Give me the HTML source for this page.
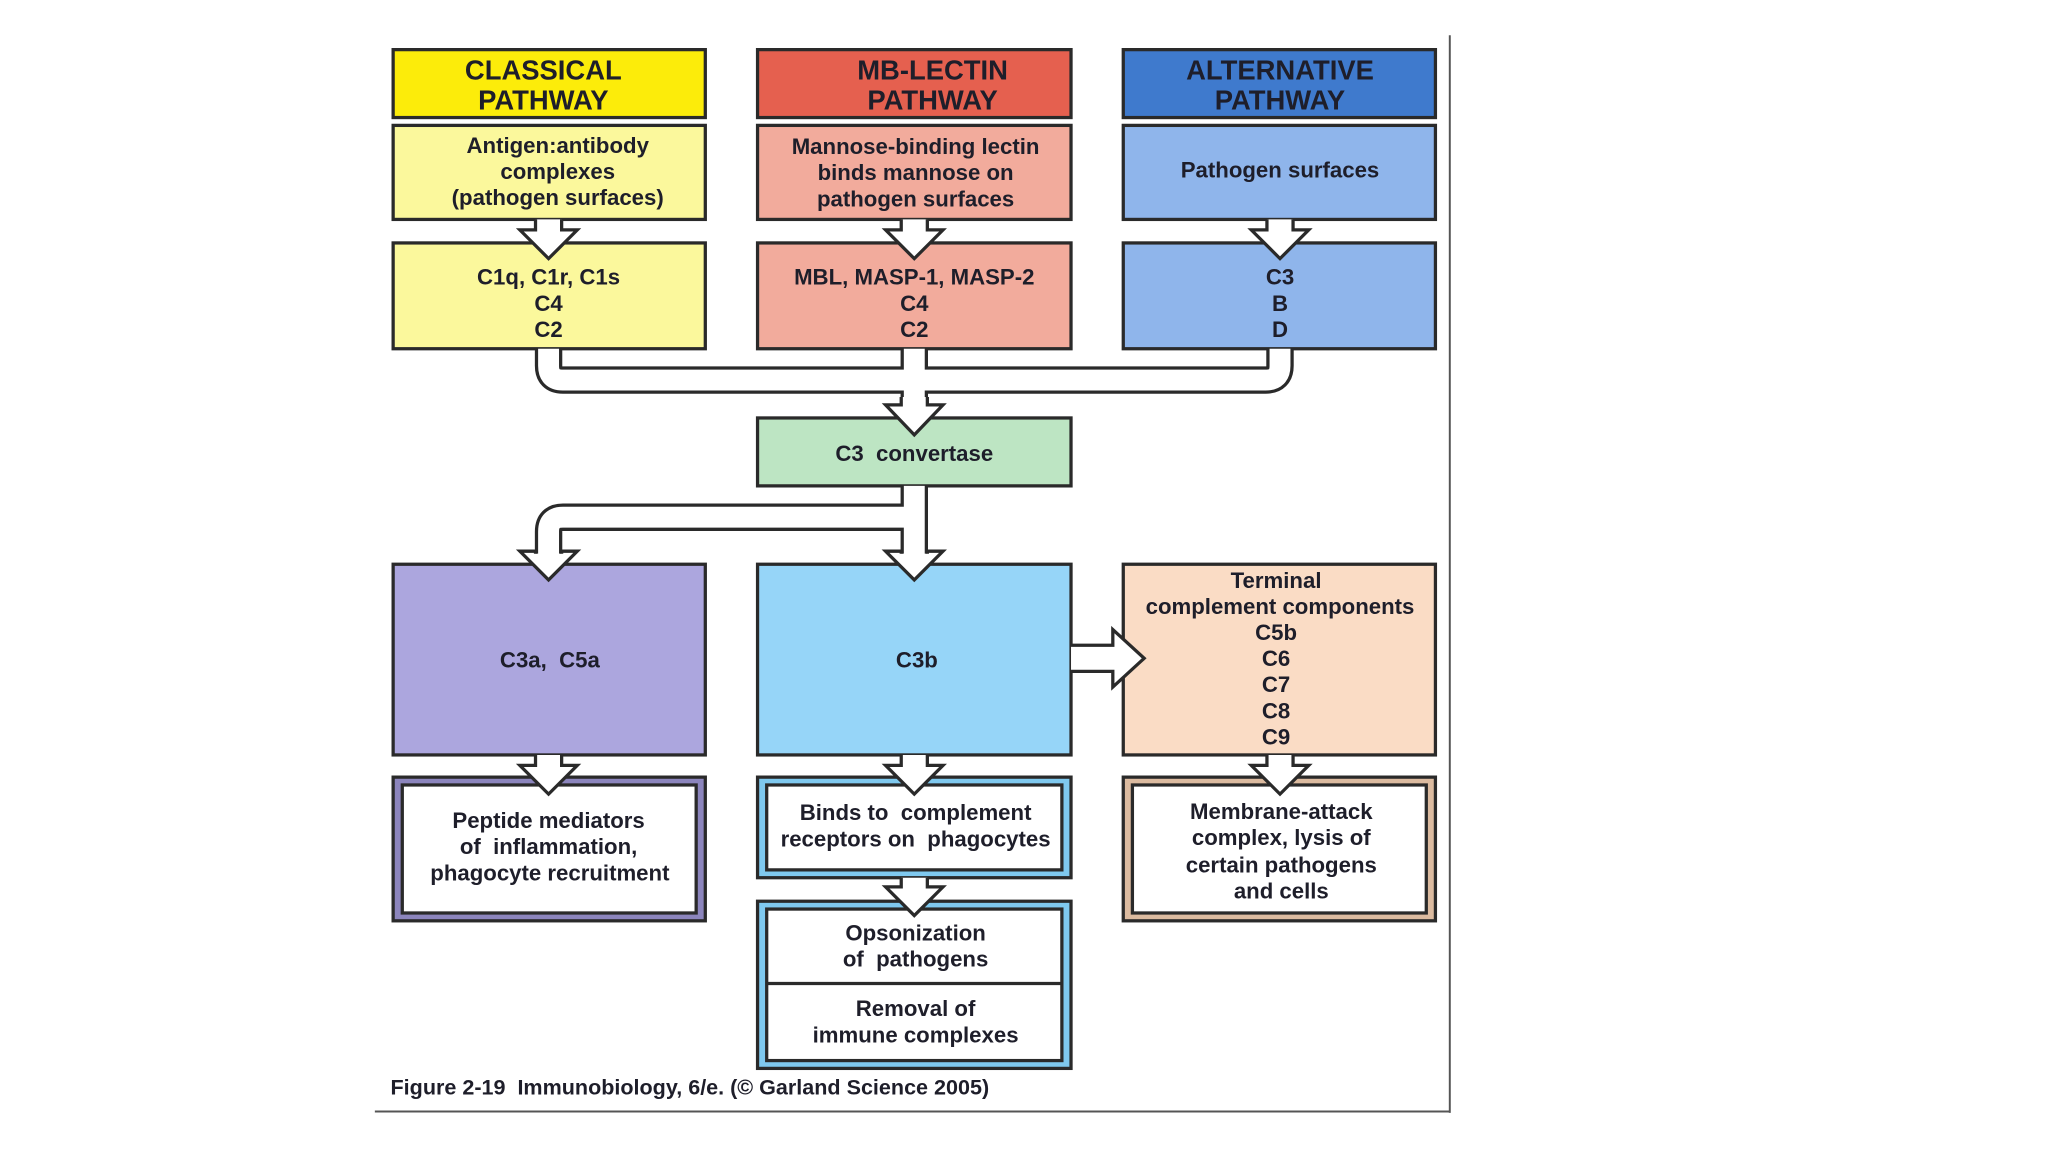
<!DOCTYPE html>
<html><head><meta charset="utf-8"><style>
html,body{margin:0;padding:0;background:#fff;width:2048px;height:1152px;overflow:hidden}
svg{display:block}
text{font-family:"Liberation Sans Narrow","Liberation Sans",sans-serif;font-weight:bold;fill:#1e1e2a;text-anchor:middle}
</style></head><body>
<svg width="2048" height="1152" viewBox="0 0 1568 882" preserveAspectRatio="none">
<rect width="1568" height="882" fill="#fff"/>
<line x1="1110" y1="27" x2="1110" y2="852" stroke="#555" stroke-width="1.5"/>
<line x1="287" y1="851" x2="1110" y2="851" stroke="#555" stroke-width="1.5"/>
<g stroke="#2a2a2a" stroke-width="2.5">
<rect x="301" y="38" width="239" height="52" fill="#fcec0a"/>
<rect x="580" y="38" width="240" height="52" fill="#e5604f"/>
<rect x="860" y="38" width="239" height="52" fill="#3f7acd"/>
<rect x="301" y="96" width="239" height="72" fill="#fbf89c"/>
<rect x="580" y="96" width="240" height="72" fill="#f2ab9c"/>
<rect x="860" y="96" width="239" height="72" fill="#8fb5eb"/>
<rect x="301" y="186" width="239" height="81" fill="#fbf89c"/>
<rect x="580" y="186" width="240" height="81" fill="#f2ab9c"/>
<rect x="860" y="186" width="239" height="81" fill="#8fb5eb"/>
<rect x="580" y="320" width="240" height="52" fill="#bde5c3"/>
<rect x="301" y="432" width="239" height="146" fill="#aca6de"/>
<rect x="580" y="432" width="240" height="146" fill="#96d5f8"/>
<rect x="860" y="432" width="239" height="146" fill="#fadcc5"/>
<rect x="301" y="595" width="239" height="110" fill="#8c85bd"/>
<rect x="308" y="601" width="225" height="98" fill="#fff"/>
<rect x="580" y="595" width="240" height="77" fill="#7fc9ef"/>
<rect x="587" y="601" width="226" height="65" fill="#fff"/>
<rect x="580" y="690" width="240" height="128" fill="#7fc9ef"/>
<rect x="587" y="696" width="226" height="116" fill="#fff"/>
<line x1="587" y1="753" x2="813" y2="753"/>
<rect x="860" y="595" width="239" height="110" fill="#dcbba0"/>
<rect x="867" y="601" width="225" height="98" fill="#fff"/>
</g>
<g fill="none" stroke-linecap="butt">
<path d="M420 267 V280 Q420 291 431 291 H969 Q980 291 980 280 V267 M700 267 V304" stroke="#2a2a2a" stroke-width="21"/>
<path d="M700 372 V424 M700 396 H431 Q420 396 420 407 V424" stroke="#2a2a2a" stroke-width="21"/>
<path d="M420 267 V280 Q420 291 431 291 H969 Q980 291 980 280 V267 M700 267 V305" stroke="#fff" stroke-width="16"/>
<path d="M700 372 V425 M700 396 H431 Q420 396 420 407 V425" stroke="#fff" stroke-width="16"/>
</g>
<g fill="#fff" stroke="#2a2a2a" stroke-width="2.5" stroke-linejoin="miter">
<path d="M410 168 V176 H398 L420 198 L442 176 H430 V168"/>
<path d="M690 168 V176 H678 L700 198 L722 176 H710 V168"/>
<path d="M970 168 V176 H958 L980 198 L1002 176 H990 V168"/>
<path d="M690 304 V310 H678 L700 333 L722 310 H710 V304"/>
<path d="M410 424 V422 H398 L420 444 L442 422 H430 V424"/>
<path d="M690 424 V422 H678 L700 444 L722 422 H710 V424"/>
<path d="M410 578 V586 H398 L420 608 L442 586 H430 V578"/>
<path d="M690 578 V586 H678 L700 608 L722 586 H710 V578"/>
<path d="M970 578 V586 H958 L980 608 L1002 586 H990 V578"/>
<path d="M690 672 V679 H678 L700 701 L722 679 H710 V672"/>
<path d="M820 494 H852 V482 L876 504 L852 526 V514 H820"/>
</g>
<g font-size="21">
<text x="416" y="61">CLASSICAL</text><text x="416" y="84">PATHWAY</text>
<text x="714" y="61">MB-LECTIN</text><text x="714" y="84">PATHWAY</text>
<text x="980" y="61">ALTERNATIVE</text><text x="980" y="84">PATHWAY</text>
</g>
<g font-size="17">
<text x="427" y="117">Antigen:antibody</text><text x="427" y="137">complexes</text><text x="427" y="157">(pathogen surfaces)</text>
<text x="701" y="118">Mannose-binding lectin</text><text x="701" y="138">binds mannose on</text><text x="701" y="158">pathogen surfaces</text>
<text x="980" y="136">Pathogen surfaces</text>
<text x="420" y="218">C1q, C1r, C1s</text><text x="420" y="238">C4</text><text x="420" y="258">C2</text>
<text x="700" y="218">MBL, MASP-1, MASP-2</text><text x="700" y="238">C4</text><text x="700" y="258">C2</text>
<text x="980" y="218">C3</text><text x="980" y="238">B</text><text x="980" y="258">D</text>
<text x="700" y="353">C3&#160; convertase</text>
<text x="421" y="511">C3a,&#160; C5a</text>
<text x="702" y="511">C3b</text>
<text x="977" y="450">Terminal</text><text x="980" y="470">complement components</text>
<text x="977" y="490">C5b</text><text x="977" y="510">C6</text><text x="977" y="530">C7</text><text x="977" y="550">C8</text><text x="977" y="570">C9</text>
<text x="420" y="634">Peptide mediators</text><text x="420" y="654">of&#160; inflammation,</text><text x="421" y="674">phagocyte recruitment</text>
<text x="701" y="628">Binds to&#160; complement</text><text x="701" y="648">receptors on&#160; phagocytes</text>
<text x="981" y="627">Membrane-attack</text><text x="981" y="647">complex, lysis of</text><text x="981" y="668">certain pathogens</text><text x="981" y="688">and cells</text>
<text x="701" y="720">Opsonization</text><text x="701" y="740">of&#160; pathogens</text>
<text x="701" y="778">Removal of</text><text x="701" y="798">immune complexes</text>
</g>
<text x="299" y="838" font-size="16.5" style="text-anchor:start">Figure 2-19&#160; Immunobiology, 6/e. (© Garland Science 2005)</text>
</svg>
</body></html>
